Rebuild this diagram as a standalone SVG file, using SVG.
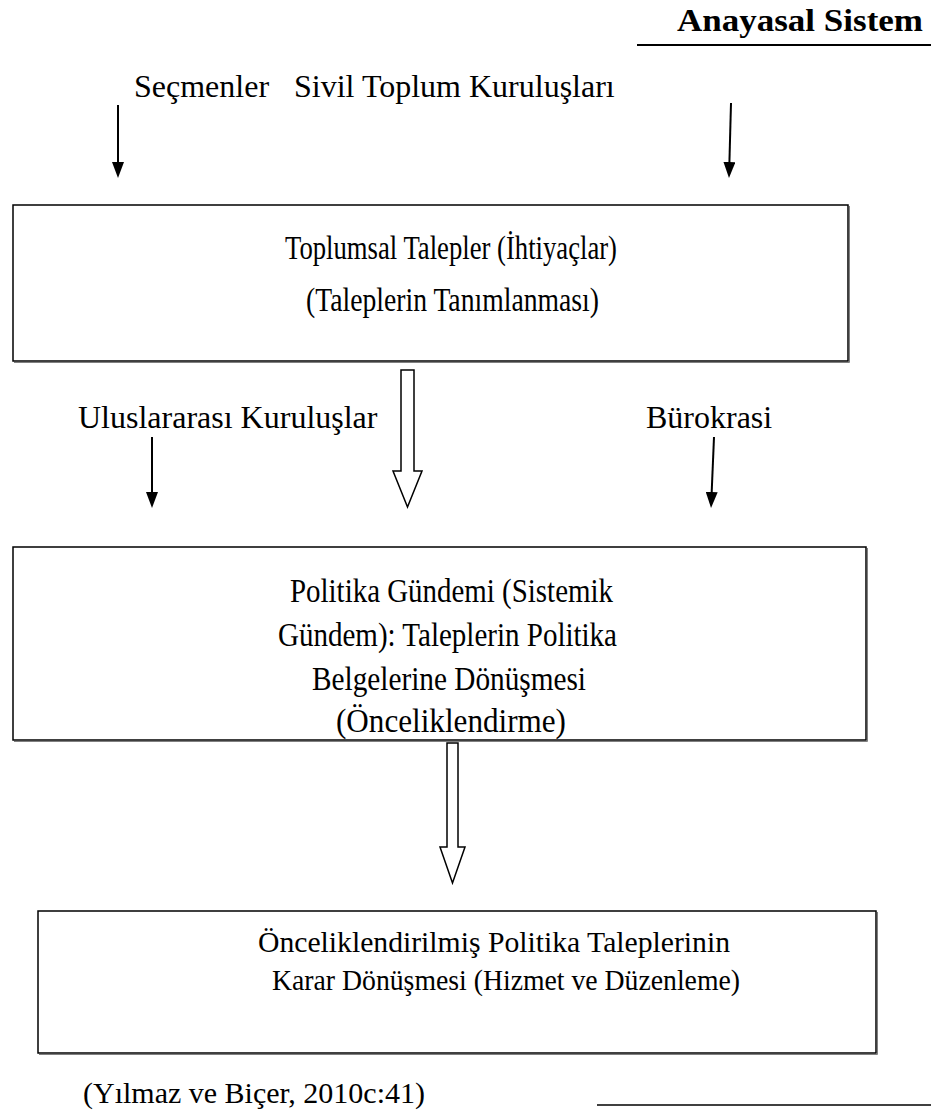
<svg xmlns="http://www.w3.org/2000/svg" width="931" height="1118" viewBox="0 0 931 1118">
<style>
  .t { font-family: "Liberation Serif", "Times New Roman", serif; fill: #000; }
  .lbl { font-size: 32px; }
  .box-t { font-size: 34px; }
  .box3-t { font-size: 30px; }
  .box { fill: #fff; stroke: #000; stroke-width: 1.5; }
  .shadow { fill: none; stroke: #808080; stroke-width: 1; }
  .arr { stroke: #000; stroke-width: 2; fill: none; }
  .hollow { fill: #fff; stroke: #000; stroke-width: 1.5; stroke-linejoin: miter; }
</style>
<defs>
  <marker id="head" viewBox="0 0 16 12" refX="12" refY="6" markerWidth="16" markerHeight="12" markerUnits="userSpaceOnUse" orient="auto">
    <path d="M0,0 L16,6 L0,12 Z" fill="#000"/>
  </marker>
</defs>
<rect width="931" height="1118" fill="#fff"/>

<g id="anayasal-sistem">
  <text class="t" x="677" y="31" font-size="32" font-weight="bold" textLength="246" lengthAdjust="spacingAndGlyphs">Anayasal Sistem</text>
  <line x1="637" y1="45" x2="931" y2="45" stroke="#000" stroke-width="2"/>
</g>

<g id="secmenler-stk">
  <text class="t lbl" y="97"><tspan x="134">Seçmenler</tspan><tspan x="294">Sivil Toplum Kuruluşları</tspan></text>
</g>

<g id="toplumsal-talepler">
  <rect class="box" x="13" y="205" width="835" height="156"/>
  <polyline class="shadow" points="849.5,206 849.5,362.5 14,362.5"/>
  <text class="t box-t" x="285" y="259" textLength="332" lengthAdjust="spacingAndGlyphs">Toplumsal Talepler (İhtiyaçlar)</text>
  <text class="t box-t" x="306" y="311" textLength="293" lengthAdjust="spacingAndGlyphs">(Taleplerin Tanımlanması)</text>
</g>

<g id="uluslararasi">
  <text class="t lbl" x="78" y="428">Uluslararası Kuruluşlar</text>
</g>

<g id="burokrasi">
  <text class="t lbl" x="646" y="428">Bürokrasi</text>
</g>

<g id="politika-gundemi">
  <rect class="box" x="13" y="547" width="853" height="193"/>
  <polyline class="shadow" points="867.5,548 867.5,741.5 14,741.5"/>
  <text class="t box-t" x="290" y="602" textLength="323" lengthAdjust="spacingAndGlyphs">Politika Gündemi (Sistemik</text>
  <text class="t box-t" x="278" y="646" textLength="339" lengthAdjust="spacingAndGlyphs">Gündem): Taleplerin Politika</text>
  <text class="t box-t" x="312" y="690" textLength="274" lengthAdjust="spacingAndGlyphs">Belgelerine Dönüşmesi</text>
  <text class="t box-t" x="336" y="732" textLength="230" lengthAdjust="spacingAndGlyphs">(Önceliklendirme)</text>
</g>

<g id="karar-donusmesi">
  <rect class="box" x="38" y="911" width="838" height="142"/>
  <polyline class="shadow" points="877.5,912 877.5,1054.5 39,1054.5"/>
  <text class="t box3-t" x="258" y="952" textLength="472" lengthAdjust="spacingAndGlyphs">Önceliklendirilmiş Politika Taleplerinin</text>
  <text class="t box3-t" x="272" y="990" textLength="468" lengthAdjust="spacingAndGlyphs">Karar Dönüşmesi (Hizmet ve Düzenleme)</text>
</g>

<g id="kaynak">
  <text class="t" x="83" y="1103" font-size="30" textLength="342" lengthAdjust="spacingAndGlyphs">(Yılmaz ve Biçer, 2010c:41)</text>
  <line x1="597" y1="1105" x2="931" y2="1105" stroke="#000" stroke-width="1.5"/>
</g>

<g id="connectors">
  <line class="arr" x1="118" y1="105" x2="118" y2="174" marker-end="url(#head)"/>
  <line class="arr" x1="731" y1="103" x2="729.1" y2="174" marker-end="url(#head)"/>
  <line class="arr" x1="152" y1="437" x2="152" y2="504" marker-end="url(#head)"/>
  <line class="arr" x1="714" y1="437" x2="711.2" y2="504" marker-end="url(#head)"/>
  <path class="hollow" d="M401,370 L414,370 L414,471 L422,471 L407.5,507 L393,471 L401,471 Z"/>
  <path class="hollow" d="M447,743 L458,743 L458,847 L465,847 L452.5,883 L440,847 L447,847 Z"/>
</g>
</svg>
